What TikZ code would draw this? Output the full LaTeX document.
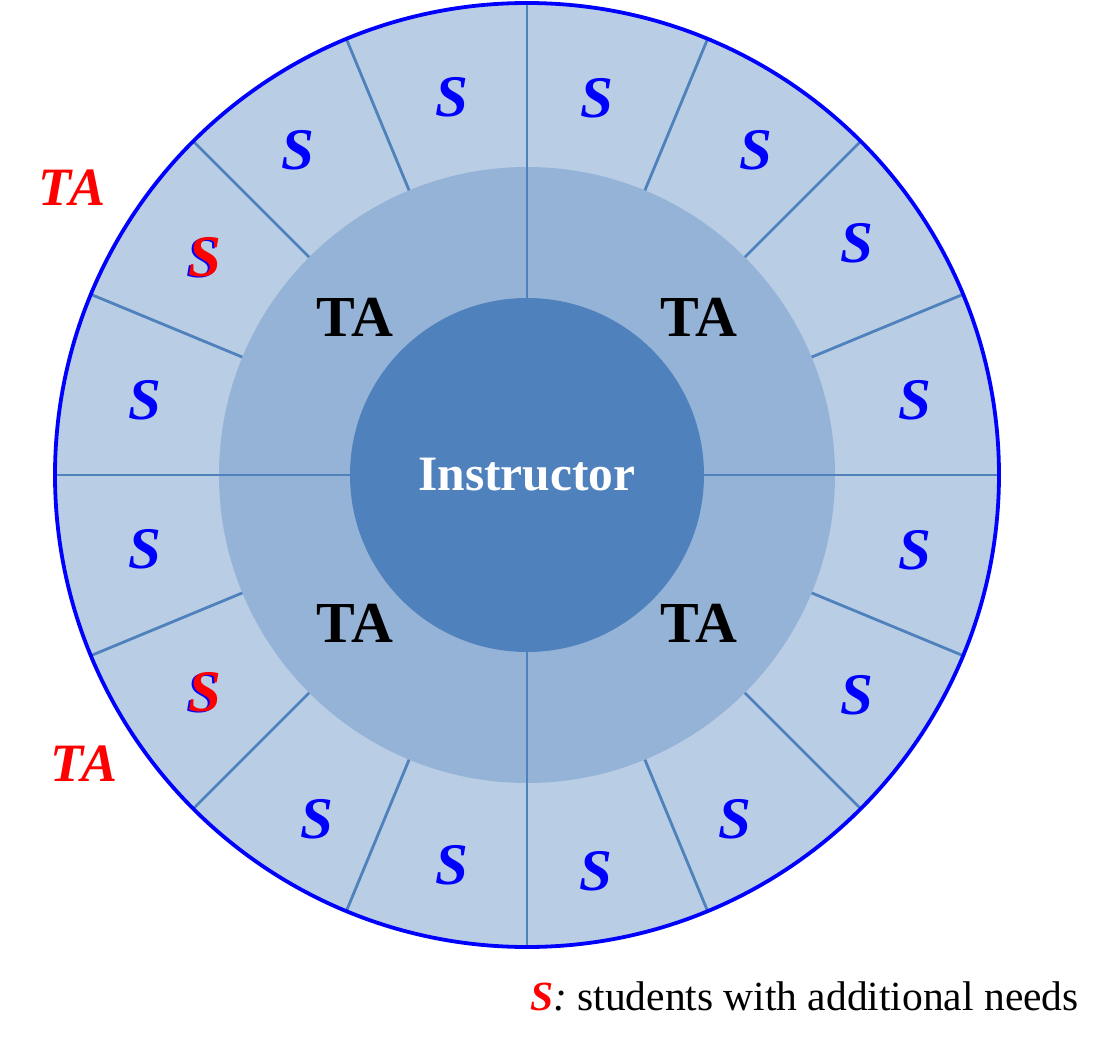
\documentclass[tikz,border=0pt]{standalone}
\usepackage{fontspec}
\setmainfont{Liberation Serif}
\usetikzlibrary{calc}
\definecolor{ringout}{HTML}{B9CDE5}
\definecolor{ringmid}{HTML}{95B3D7}
\definecolor{ringin}{HTML}{4F81BD}
\definecolor{sblue}{HTML}{0000FF}
\definecolor{sred}{HTML}{FF0000}
\begin{document}
\begin{tikzpicture}[x=1pt,y=1pt,
  divider/.style={draw=ringin,line width=2.8pt},
  slabel/.style={text=sblue,font=\fontsize{59}{62}\selectfont\bfseries\itshape,inner sep=0pt},
  redslabel/.style={text=sred,font=\fontsize{59}{62}\selectfont\bfseries\itshape,inner sep=0pt},
  talabel/.style={text=black,font=\fontsize{58}{62}\selectfont\bfseries,inner sep=0pt},
  redtalabel/.style={text=sred,font=\fontsize{54}{58}\selectfont\bfseries\itshape,inner sep=0pt}]
\useasboundingbox (-527,-570) rectangle (587,475);
% outer ring
\fill[ringout] (0,0) circle (472);
\foreach \k in {0,...,15}{
  \draw[divider] (0,0) -- (\k*22.5:472);
}
% middle ring
\fill[ringmid] (0,0) circle (308);
\foreach \k in {0,...,3}{
  \draw[divider] (0,0) -- (\k*90:308);
}
% inner circle
\fill[ringin] (0,0) circle (177);
% outer border
\draw[sblue,line width=3.8pt] (0,0) circle (472);
% student labels
\foreach \nm/\px/\py in {a/-75/378, b/70/377, c/-229/325, d/229/325, f/330/232,
  g/-382/75, h/388/75, i/-382/-74, j/388/-75, l/330/-220,
  m/-210/-344, n/208/-344, o/-75/-390, p/69/-396}{
  \node[slabel] (s\nm) at (\px,\py) {S};
}
\node[slabel] (seb) at (-324,217) {S};
\node[redslabel] (se) at (-322.5,217.5) {S};
\node[slabel] (skb) at (-324,-218) {S};
\node[redslabel] (sk) at (-322.5,-217.5) {S};
% TA labels
\node[talabel] (ta1) at (-172,158) {TA};
\node[talabel] (ta2) at (172,158) {TA};
\node[talabel] (ta3) at (-172,-148) {TA};
\node[talabel] (ta4) at (172,-148) {TA};
\node[redtalabel] (rta1) at (-455,287) {TA};
\node[redtalabel] (rta2) at (-443,-289) {TA};
% instructor
\node[text=white,font=\fontsize{49.5}{54}\selectfont\bfseries,inner sep=0pt] (instr) at (0,0) {Instructor};
% legend
\node[anchor=base east,inner sep=0pt,font=\fontsize{41.5}{46}\selectfont] (legend) at (552,-535)
  {{\color{sred}\bfseries\itshape S}\textit{:} students with additional needs};
\end{tikzpicture}
\end{document}
